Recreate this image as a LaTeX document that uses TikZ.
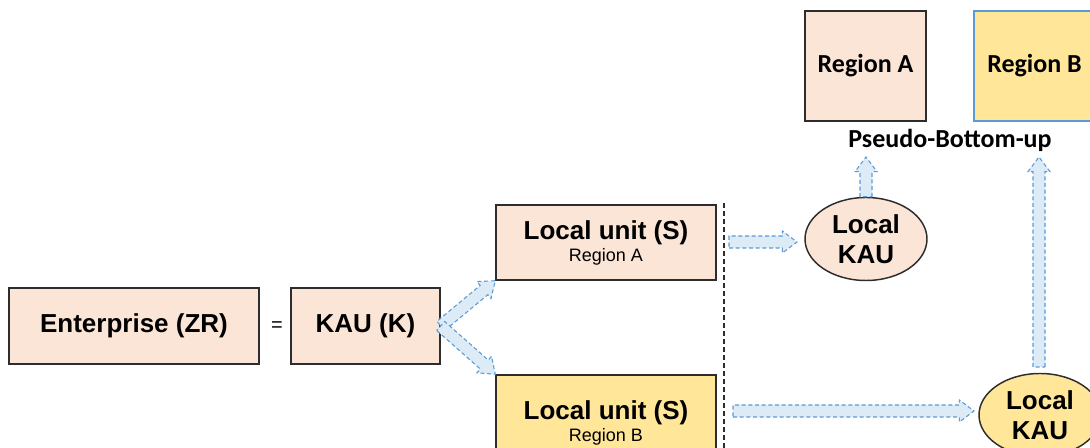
\documentclass[tikz,border=0pt]{standalone}
\usepackage{fontspec}
\setmainfont{Liberation Sans}
\newfontfamily\calibri{Carlito}
\usetikzlibrary{calc,shapes.geometric}

\definecolor{peach}{RGB}{251,229,214}
\definecolor{sand}{RGB}{255,230,153}
\definecolor{arrowfill}{RGB}{221,235,247}
\definecolor{arrowline}{RGB}{91,155,213}
\definecolor{boxline}{RGB}{45,45,45}

\tikzset{every picture/.style={line width=0.75pt}}
\tikzset{
  unitbox/.style={draw=boxline, line width=1.1pt, align=center, inner sep=0pt},
  kauoval/.style={ellipse, draw=boxline, line width=1.1pt, align=center, inner sep=0pt,
    minimum width=91.5pt, minimum height=62.25pt, font=\fontsize{19.5}{22.5}\selectfont\bfseries},
  bigtext/.style={font=\fontsize{19.5}{19.5}\selectfont\bfseries},
  regbox/.style={minimum width=90.75pt, minimum height=82.5pt, inner sep=0pt,
    font=\calibri\fontsize{19.5}{22}\selectfont\bfseries},
  fatarrow/.style={fill=arrowfill, draw=arrowline, dash pattern=on 3pt off 2pt,
    line width=0.8pt, line join=miter},
}

% block arrow between two points
\newcommand{\blockarrow}[2]{%
  \coordinate (ba-m) at ($(#2)!11pt!(#1)$);
  \draw[fatarrow] ($(#1)!4.5pt!90:(#2)$) -- ($(ba-m)!4.5pt!90:(#2)$) -- ($(ba-m)!8.25pt!90:(#2)$)
    -- (#2) -- ($(ba-m)!8.25pt!-90:(#2)$) -- ($(ba-m)!4.5pt!-90:(#2)$) -- ($(#1)!4.5pt!-90:(#2)$) -- cycle;
}

\begin{document}
\begin{tikzpicture}[x=0.75pt,y=0.75pt,yscale=-1,xscale=1]
		\useasboundingbox (0,0) rectangle (1090,448);
		\clip (0,0) rectangle (1090,448);

		%Shape: Rectangle [enterprise]
		\node[unitbox, fill=peach, bigtext, minimum width=187.5pt, minimum height=57pt] (ent) at (134,326) {Enterprise (ZR)};
		% Text Node
		\node[font=\fontsize{15}{17}\selectfont] (eq) at (277,327) {=};
		%Shape: Rectangle [kind of activity unit]
		\node[unitbox, fill=peach, bigtext, minimum width=111.75pt, minimum height=57pt] (kau) at (365.5,326) {KAU (K)};

		%Shape: Rectangle [local units]
		\node[unitbox, fill=peach, bigtext, minimum width=165pt, minimum height=56.25pt] (luA) at (606,242.5)
			{Local unit (S)\\[-3pt]{\fontsize{13.5}{15}\selectfont\mdseries Region A}};
		\node[unitbox, fill=sand, bigtext, minimum width=165pt, minimum height=72pt] (luB) at (606,423)
			{Local unit (S)\\[-3pt]{\fontsize{13.5}{15}\selectfont\mdseries Region B}};

		%Straight Lines [separator]
		\coordinate (septop) at (724,203);
		\coordinate (sepbot) at (724,448);
		\draw[boxline, line width=0.9pt, dash pattern=on 3.5pt off 2.5pt] (septop) -- (sepbot);

		%Shape: Ellipse [local KAU]
		\node[kauoval, fill=peach] (lkA) at (866,239) {Local\\KAU};
		\node[kauoval, fill=sand] (lkB) at (1040,415) {Local\\KAU};

		%Shape: Rectangle [regions]
		\node[regbox, fill=peach, draw=boxline, line width=1.1pt] (regA) at (865.5,66) {Region A};
		\node[regbox, fill=sand, draw=arrowline, line width=0.8pt] (regB) at (1034.5,66) {Region B};
		% Text Node
		\node[font=\calibri\fontsize{19.5}{22}\selectfont\bfseries] (pbu) at (950,140) {Pseudo-Bottom-up};

		%Block arrows
		\coordinate (upA) at (866,157);
		\coordinate (upB) at (1039,157);
		\coordinate (lkBtop) at (1039,367);
		\coordinate (hA) at (729,242);
		\coordinate (hAend) at (797,242);
		\coordinate (hB) at (733,411);
		\coordinate (hBend) at (974,411);
		\blockarrow{kau.east}{luA.south west}
		\blockarrow{kau.east}{luB.north west}
		\blockarrow{hA}{hAend}
		\blockarrow{hB}{hBend}
		\blockarrow{lkA.north}{upA}
		\blockarrow{lkBtop}{upB}

\end{tikzpicture}
\end{document}
